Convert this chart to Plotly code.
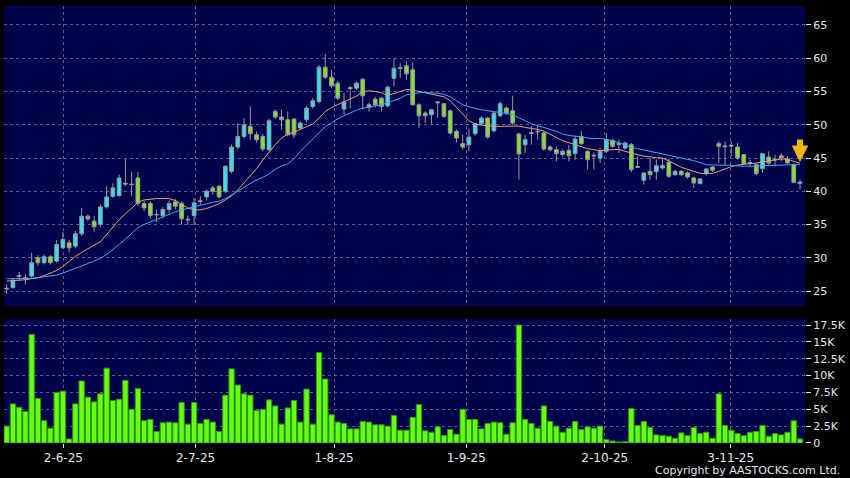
import plotly.graph_objects as go

# daily bars, oldest first (HK trading days from 20 May 2025)
OPEN = [25.3, 25.5, 27.2, 27.0, 27.25, 30.0, 29.25, 30.15, 29.5, 31.5,
        32.25, 31.75, 33.6, 36.25, 35.5, 35.0, 37.65, 39.25, 39.35, 41.2,
        41.0, 42.0, 38.15, 38.15, 36.45, 36.35, 37.25, 38.4, 38.15, 35.8,
        36.35, 38.45, 39.15, 40.5, 40.75, 40.0, 43.0, 46.65, 48.25, 49.75,
        48.5, 48.25, 46.25, 52.0, 51.15, 50.75, 50.85, 49.5, 50.75, 52.75,
        53.5, 58.65, 57.15, 56.25, 52.35, 55.45, 55.5, 56.85, 53.0, 53.85,
        54.0, 52.85, 57.0, 58.45, 58.85, 58.25, 53.0, 51.75, 51.5, 53.3,
        53.15, 52.1, 49.0, 47.15, 47.0, 48.65, 50.15, 51.0, 49.1, 51.35,
        52.5, 52.1, 48.6, 47.0, 48.7, 49.0, 48.75, 46.65, 46.25, 45.5,
        46.15, 45.65, 48.25, 46.0, 45.3, 45.0, 46.0, 47.65, 47.0, 46.5,
        47.0, 43.6, 41.65, 43.0, 42.95, 43.85, 44.35, 42.5, 43.0, 42.75,
        42.0, 41.15, 42.65, 43.65, 47.15, 46.7, 46.9, 46.65, 45.5, 44.2,
        44.0, 43.4, 45.15, 44.7, 45.35, 44.85, 44.0, 41.4]
HIGH = [26.0, 27.0, 27.85, 27.45, 30.75, 30.4, 30.5, 30.4, 32.7, 33.9,
        32.7, 34.0, 37.5, 36.5, 36.25, 38.0, 40.75, 41.2, 42.5, 44.85,
        42.9, 42.9, 38.6, 38.5, 37.25, 37.6, 38.6, 38.8, 38.5, 36.35,
        39.0, 39.25, 40.25, 40.8, 41.0, 43.9, 47.0, 50.25, 51.0, 52.75,
        49.0, 48.6, 50.9, 52.3, 52.25, 52.0, 51.0, 50.5, 52.8, 54.0,
        59.0, 60.65, 58.25, 56.6, 54.75, 55.8, 56.5, 56.9, 53.3, 54.2,
        54.2, 55.9, 60.0, 59.25, 59.5, 59.35, 53.2, 52.0, 52.3, 53.5,
        53.3, 52.3, 49.3, 48.5, 49.35, 50.2, 51.3, 51.2, 52.0, 53.5,
        52.75, 54.35, 48.8, 48.5, 49.75, 49.85, 49.0, 46.9, 46.75, 46.3,
        47.0, 48.35, 49.0, 46.2, 45.85, 46.5, 48.75, 47.9, 47.75, 47.5,
        47.25, 45.25, 42.8, 45.0, 44.75, 45.0, 44.85, 43.2, 43.2, 43.0,
        42.15, 42.0, 43.5, 43.8, 47.5, 47.5, 47.5, 47.25, 45.6, 44.75,
        44.2, 45.75, 46.0, 45.5, 45.75, 45.25, 44.2, 41.75]
LOW = [24.6, 25.4, 26.5, 26.0, 27.0, 28.8, 29.0, 29.0, 29.3, 31.3,
       30.8, 31.4, 33.3, 35.5, 33.9, 34.6, 37.4, 39.0, 39.2, 40.75,
       39.25, 37.75, 37.0, 35.9, 35.35, 35.9, 36.8, 37.3, 35.0, 34.9,
       34.9, 38.0, 38.6, 39.5, 38.9, 39.7, 42.7, 46.3, 47.9, 47.75,
       47.3, 46.0, 46.0, 50.9, 49.25, 48.3, 48.0, 49.2, 50.4, 52.4,
       53.2, 56.9, 55.5, 53.7, 51.5, 52.5, 55.2, 52.25, 52.0, 52.6,
       52.0, 52.6, 55.75, 57.0, 56.75, 52.9, 49.5, 50.25, 50.15, 51.0,
       51.0, 48.5, 47.3, 46.25, 46.0, 48.35, 49.9, 47.9, 48.8, 51.1,
       51.5, 50.0, 41.75, 45.75, 47.0, 47.75, 46.1, 46.0, 44.5, 45.2,
       44.5, 44.75, 47.0, 43.25, 43.25, 44.25, 45.75, 46.5, 45.75, 46.25,
       42.9, 43.5, 41.0, 41.75, 41.75, 43.25, 42.0, 42.3, 42.3, 41.9,
       40.5, 41.0, 42.35, 42.9, 44.25, 44.0, 45.25, 44.75, 44.0, 43.75,
       42.4, 42.75, 43.75, 43.75, 44.5, 44.0, 41.2, 40.25]
CLOSE = [25.4, 26.6, 27.3, 27.0, 29.25, 29.25, 30.15, 29.25, 32.0, 32.75,
         31.5, 33.6, 36.25, 35.85, 34.65, 37.65, 39.15, 40.5, 42.0, 41.1,
         41.05, 38.15, 37.5, 36.35, 36.5, 37.25, 38.15, 37.75, 35.85, 35.7,
         38.25, 38.55, 40.0, 40.0, 39.15, 43.75, 46.65, 48.25, 50.0, 48.65,
         47.75, 46.35, 50.6, 51.15, 50.75, 48.5, 48.5, 50.25, 52.5, 53.6,
         58.65, 57.15, 55.85, 54.0, 53.4, 55.55, 56.25, 54.35, 52.6, 53.0,
         52.75, 55.65, 58.5, 58.55, 57.65, 53.0, 51.35, 51.35, 52.25, 53.4,
         51.25, 48.75, 48.0, 46.65, 48.15, 50.15, 51.0, 48.15, 51.75, 53.15,
         51.75, 50.25, 45.6, 47.75, 48.8, 48.95, 46.35, 46.25, 45.65, 46.0,
         45.35, 47.85, 47.15, 44.75, 45.4, 46.0, 47.75, 46.75, 47.2, 47.25,
         43.25, 43.7, 42.75, 42.5, 43.85, 43.5, 42.25, 43.0, 42.5, 42.15,
         41.25, 41.85, 43.35, 43.15, 46.75, 46.8, 46.8, 45.0, 44.15, 44.3,
         42.65, 45.65, 44.25, 44.8, 45.0, 44.25, 41.35, 41.2]

# moving averages as drawn on the chart
MA_SHORT = [26.5, 26.55, 26.6, 26.7, 26.85, 27.0, 27.3, 27.7, 28.1, 28.7,
            29.5, 30.2, 30.8, 31.4, 31.9, 32.4, 33.5, 34.6, 35.7, 36.6,
            37.5, 38.3, 38.7, 38.85, 38.9, 38.9, 38.9, 38.6, 38.0, 37.5,
            37.2, 37.2, 37.4, 37.8, 38.1, 38.7, 39.3, 40.2, 41.3, 42.3,
            43.4, 44.7, 45.9, 47.0, 48.0, 48.6, 48.9, 49.3, 49.7, 50.1,
            51.0, 52.0, 52.6, 53.0, 53.4, 53.8, 54.3, 55.0, 55.1, 55.0,
            54.8, 54.4, 54.7, 55.0, 55.3, 55.2, 55.0, 54.8, 54.5, 54.4,
            54.2, 53.6, 52.6, 51.6, 50.6, 50.1, 49.9, 49.8, 49.75, 49.75,
            49.8, 49.85, 49.8, 49.6, 49.5, 49.3, 49.05, 48.6, 48.1, 47.6,
            47.3, 47.0, 46.7, 46.4, 46.25, 46.1, 46.2, 46.3, 46.3, 46.0,
            45.7, 45.5, 45.3, 45.15, 45.05, 45.0, 44.6, 44.1, 43.6, 43.3,
            43.0, 42.7, 42.65, 42.7, 43.0, 43.4, 43.7, 43.95, 44.0, 44.15,
            44.25, 44.4, 44.5, 44.7, 44.85, 44.8, 44.5, 44.2]
MA_LONG = [26.85, 26.85, 26.85, 26.85, 26.9, 27.0, 27.1, 27.25, 27.4, 27.7,
           28.0, 28.4, 28.75, 29.1, 29.5, 29.9, 30.5, 31.2, 32.0, 32.8,
           33.7, 34.5, 35.0, 35.4, 35.8, 36.2, 36.6, 36.9, 37.2, 37.4,
           37.6, 37.9, 38.1, 38.35, 38.5, 38.9, 39.4, 40.0, 40.6, 41.2,
           41.7, 42.1, 42.6, 43.3, 43.8, 44.1, 44.9, 46.0, 46.9, 47.8,
           48.8, 49.7, 50.3, 50.9, 51.35, 51.8, 52.2, 52.5, 52.65, 52.8,
           53.0, 53.3, 53.6, 54.0, 54.5, 54.7, 54.8, 54.85, 54.85, 54.75,
           54.55, 54.2, 53.6, 53.0, 52.7, 52.45, 52.25, 52.1, 52.0, 51.85,
           51.7, 51.5, 51.1, 50.6, 50.15, 49.9, 49.6, 49.3, 49.0, 48.6,
           48.4, 48.25, 48.15, 48.0, 47.9, 47.95, 47.8, 47.6, 47.3, 46.9,
           46.6, 46.4, 46.2, 46.0, 45.85, 45.7, 45.5, 45.3, 45.0, 44.8,
           44.6, 44.3, 44.0, 43.95, 43.95, 43.95, 43.9, 43.8, 43.75, 43.75,
           43.8, 43.85, 43.9, 43.95, 44.0, 44.0, 44.0, 44.0]

# volume in thousands of shares
VOLUME_K = [2.5, 5.8, 5.3, 4.7, 16.1, 6.6, 3.3, 2.2, 7.5, 7.7,
            0.6, 5.8, 9.2, 6.8, 6.1, 7.3, 11.1, 6.3, 6.5, 9.3,
            5.0, 8.1, 3.3, 3.5, 1.7, 3.0, 3.1, 3.0, 6.0, 2.8,
            6.0, 2.9, 3.5, 3.1, 1.7, 7.1, 11.0, 8.6, 7.3, 7.1,
            4.8, 5.0, 6.4, 5.5, 2.8, 5.2, 6.3, 3.1, 8.0, 2.8,
            13.4, 9.5, 4.2, 3.1, 2.9, 2.1, 2.1, 3.2, 3.1, 2.7,
            2.7, 2.5, 4.1, 1.9, 1.9, 3.8, 5.7, 1.8, 1.6, 2.4,
            1.1, 2.0, 1.3, 5.0, 3.5, 3.5, 2.1, 2.9, 3.1, 3.0,
            1.3, 3.0, 17.5, 3.5, 2.9, 2.2, 5.5, 3.2, 2.5, 1.6,
            2.2, 3.2, 2.0, 2.4, 2.2, 2.5, 0.5, 0.3, 0.15, 0.2,
            5.1, 2.6, 3.2, 2.3, 1.2, 1.1, 1.0, 0.7, 1.5, 1.1,
            2.3, 1.4, 1.6, 0.7, 7.3, 2.6, 1.9, 1.4, 1.1, 1.6,
            1.7, 2.6, 1.0, 1.4, 1.2, 1.6, 3.3, 0.6]

# month labels and the bar each date falls on
DATE_LABELS = ["2-6-25", "2-7-25", "1-8-25", "1-9-25", "2-10-25", "3-11-25"]
DATE_BARS = [9, 30, 52, 73, 95, 115]
PRICE_TICKS = [25, 30, 35, 40, 45, 50, 55, 60, 65]
VOL_TICKS = [0, 2.5, 5, 7.5, 10, 12.5, 15, 17.5]
VOL_LABELS = ["0", "2.5K", "5K", "7.5K", "10K", "12.5K", "15K", "17.5K"]
SIGNAL_PRICE = 44.4  # tip of the sell arrow on the last bar

NAVY = "#02024c"
GRID = "#5c5c8c"
CYAN = "#2fe3f2"
GREEN = "#80e62a"
WICK = "#9a9a9a"
TEXT = "#e6e6e6"

n = len(CLOSE)
bars = list(range(n))
# the source chart spaces its date ticks over n-1 slots, not n
tick_pos = [b * n / (n - 1) for b in DATE_BARS]

fig = go.Figure()

fig.add_trace(go.Candlestick(
    x=bars, open=OPEN, high=HIGH, low=LOW, close=CLOSE,
    increasing=dict(fillcolor=CYAN, line=dict(color=WICK, width=1)),
    decreasing=dict(fillcolor=GREEN, line=dict(color=WICK, width=1)),
    whiskerwidth=0,
    xaxis="x", yaxis="y",
))
fig.add_trace(go.Scatter(x=bars, y=MA_SHORT, mode="lines",
                         line=dict(color="#e8a070", width=1), xaxis="x", yaxis="y"))
fig.add_trace(go.Scatter(x=bars, y=MA_LONG, mode="lines",
                         line=dict(color="#3aa8f0", width=1), xaxis="x", yaxis="y"))

fig.add_trace(go.Bar(
    x=bars, y=VOLUME_K,
    marker=dict(color="#66ff14", line=dict(color="#2e9a0a", width=1)),
    xaxis="x2", yaxis="y2",
))

x_range = [-0.43, n - 0.2]
axis_font = dict(family="DejaVu Sans", size=11, color=TEXT)

fig.update_layout(
    width=850, height=478,
    margin=dict(l=4, r=42, t=6, b=35),
    paper_bgcolor="black",
    plot_bgcolor=NAVY,
    showlegend=False,
    bargap=0.15,
    boxgap=0.15,
    xaxis=dict(
        domain=[0, 1], anchor="y", range=x_range,
        tickvals=tick_pos, showticklabels=False, ticks="",
        showgrid=True, gridcolor=GRID, griddash="3px,3px", gridwidth=1,
        zeroline=False, rangeslider=dict(visible=False),
    ),
    xaxis2=dict(
        domain=[0, 1], anchor="y2", range=x_range, matches="x",
        tickvals=tick_pos, ticktext=DATE_LABELS,
        ticks="outside", ticklen=4, tickcolor=TEXT,
        tickfont=dict(family="DejaVu Sans", size=12, color=TEXT),
        showgrid=True, gridcolor=GRID, griddash="3px,3px", gridwidth=1,
        zeroline=False,
    ),
    yaxis=dict(
        domain=[0.3135, 1], anchor="x", side="right", range=[22.75, 67.85],
        tickvals=PRICE_TICKS, ticks="outside", ticklen=5, tickcolor=TEXT,
        tickfont=axis_font,
        showgrid=True, gridcolor=GRID, griddash="3px,3px", gridwidth=1,
        zeroline=False,
    ),
    yaxis2=dict(
        domain=[0, 0.2838], anchor="x2", side="right", range=[0, 18.4],
        tickvals=VOL_TICKS, ticktext=VOL_LABELS,
        ticks="outside", ticklen=5, tickcolor=TEXT, tickfont=axis_font,
        showgrid=True, gridcolor=GRID, griddash="3px,3px", gridwidth=1,
        zeroline=False,
    ),
)

fig.add_annotation(
    x=n - 1, y=SIGNAL_PRICE, xref="x", yref="y",
    text="", showarrow=True, ax=0, ay=-24,
    arrowhead=2, arrowsize=0.55, arrowwidth=6, arrowcolor="#f2b705",
    standoff=0,
)
fig.add_annotation(
    x=1.046, y=-0.064, xref="paper", yref="paper",
    xanchor="right", yanchor="middle", showarrow=False,
    text="Copyright by AASTOCKS.com Ltd.",
    font=dict(family="DejaVu Sans", size=11, color=TEXT),
)

# page body has a default 8px margin; drop it so the chart sits at 0,0
fig.write_html("out.html",
               config={"displayModeBar": False},
               post_script="document.body.style.margin='0';document.body.style.overflow='hidden';")
